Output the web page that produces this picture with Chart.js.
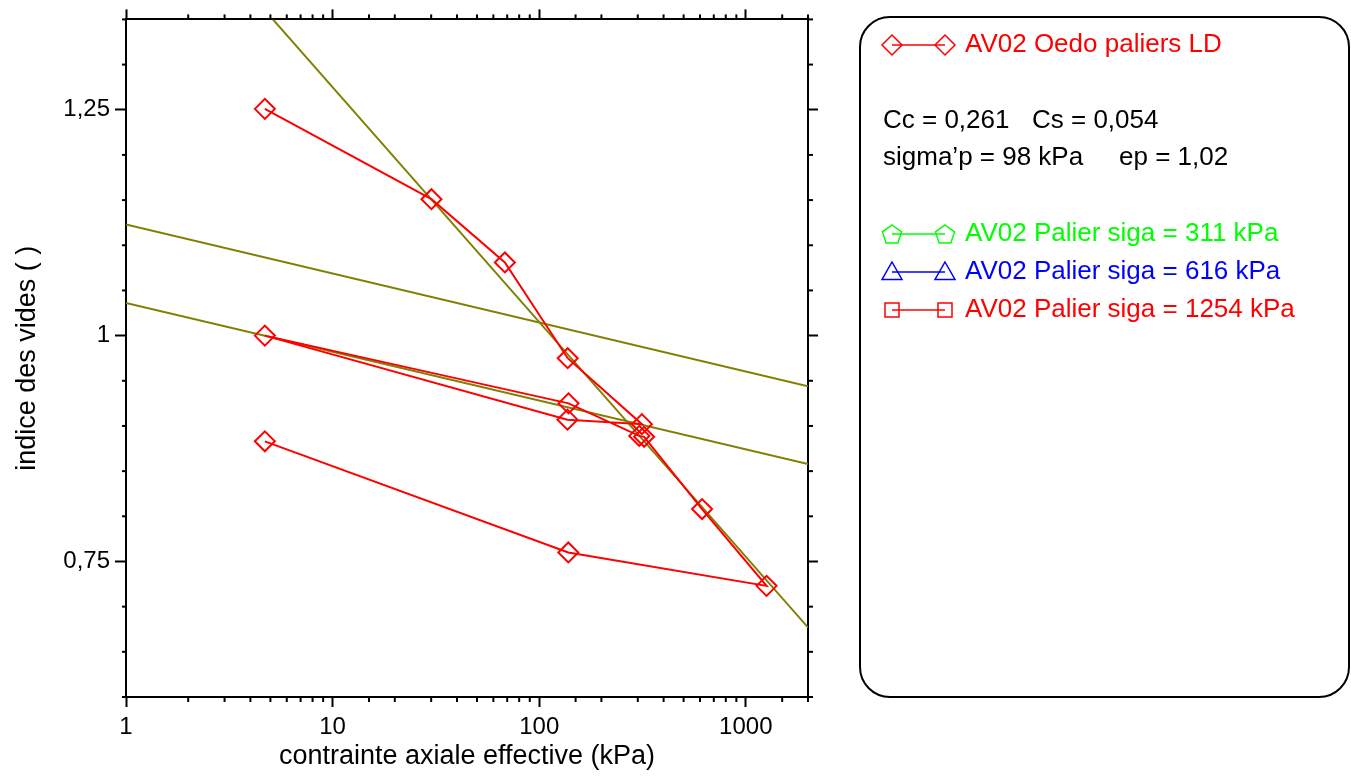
<!DOCTYPE html>
<html>
<head>
<meta charset="utf-8">
<script src="https://cdn.jsdelivr.net/npm/chart.js@4/dist/chart.umd.min.js"></script>
<style>
  body { margin: 0; background: #fff; }
  canvas { display: block; }
</style>
</head>
<body>
<canvas id="oedo" width="1351" height="778"></canvas>
<script>
// essai oedometrique AV02 : contrainte (kPa) / indice des vides
const oedoSigma = [4.7, 30.1, 68.2, 137.4, 314, 137, 4.7, 138.6, 305, 322, 614, 1260, 138.3, 4.7]
const oedoE = [1.251, 1.151, 1.081, 0.975, 0.902, 0.907, 1.0, 0.925, 0.889, 0.888, 0.808, 0.723, 0.760, 0.883]

// droites Cc et Cs
const ccSigma = [5.14, 2000]
const ccE = [1.35, 0.677]
const csHautSigma = [1, 2000]
const csHautE = [1.123, 0.944]
const csBasSigma = [1, 2000]
const csBasE = [1.036, 0.858]

const xTickLabels = [1, 10, 100, 1000]
const yTickLabels = ['0,75', '1', '1,25']

const legendLines = ['AV02 Oedo paliers LD', 'AV02 Palier siga = 311 kPa', 'AV02 Palier siga = 616 kPa', 'AV02 Palier siga = 1254 kPa']
const infoText = ['Cc = 0,261', 'Cs = 0,054', 'sigma\u2019p = 98 kPa', 'ep = 1,02']

const toPts = (xs, ys) => xs.map((x, i) => ({x: x, y: ys[i]}))
const isMajorLog = v => Math.abs(Math.log10(v) - Math.round(Math.log10(v))) < 1e-9
const isMajorY = v => Math.round(v * 100) % 25 === 0
const fmtY = v => (Math.round(v * 100) / 100).toString().replace('.', ',')

Chart.defaults.font.family = "'Liberation Sans', Arial, sans-serif"
Chart.defaults.color = '#000'

const olive = '#808000'

function lineSet(label, pts, color, extra) {
  return Object.assign({
    label: label,
    data: pts,
    showLine: true,
    borderColor: color,
    borderWidth: 2,
    pointRadius: 0,
    fill: false,
    tension: 0
  }, extra || {})
}

// petites graduations (mineures), plus courtes que les majeures
const minorTicks = {
  id: 'minorTicks',
  afterDraw(chart) {
    const ctx = chart.ctx
    const a = chart.chartArea
    ctx.save()
    ctx.strokeStyle = '#000'
    ctx.lineWidth = 2
    const mark = (sc, len) => {
      sc.ticks.forEach(t => {
        const major = sc.type === 'logarithmic' ? isMajorLog(t.value) : isMajorY(t.value)
        if (major) return
        const p = sc.getPixelForValue(t.value)
        ctx.beginPath()
        if (sc.id === 'x') { ctx.moveTo(p, a.bottom); ctx.lineTo(p, a.bottom + len) }
        if (sc.id === 'x2') { ctx.moveTo(p, a.top); ctx.lineTo(p, a.top - len) }
        if (sc.id === 'y') { ctx.moveTo(a.left, p); ctx.lineTo(a.left - len, p) }
        if (sc.id === 'y2') { ctx.moveTo(a.right, p); ctx.lineTo(a.right + len, p) }
        ctx.stroke()
      })
    }
    mark(chart.scales.x, 5)
    mark(chart.scales.x2, 5)
    mark(chart.scales.y, 4)
    mark(chart.scales.y2, 5)
    ctx.restore()
  }
}

function drawSymbol(ctx, kind, x, y) {
  ctx.beginPath()
  if (kind === 'diamond') {
    const r = 10
    ctx.moveTo(x, y - r); ctx.lineTo(x + r, y); ctx.lineTo(x, y + r); ctx.lineTo(x - r, y); ctx.closePath()
  } else if (kind === 'pentagon') {
    const r = 10
    for (let k = 0; k < 5; k++) {
      const ang = -Math.PI / 2 + k * 2 * Math.PI / 5
      const px = x + r * Math.cos(ang), py = y + 1 + r * Math.sin(ang)
      if (k === 0) ctx.moveTo(px, py); else ctx.lineTo(px, py)
    }
    ctx.closePath()
  } else if (kind === 'triangle') {
    const r = 10
    ctx.moveTo(x, y - r); ctx.lineTo(x + r, y + r * 0.75); ctx.lineTo(x - r, y + r * 0.75); ctx.closePath()
  } else {
    const h = 7
    ctx.rect(x - h, y - h, 2 * h, 2 * h)
  }
  ctx.stroke()
}

// cadre de legende a droite
const legendBox = {
  id: 'legendBox',
  afterDraw(chart) {
    const ctx = chart.ctx
    ctx.save()
    ctx.strokeStyle = '#000'
    ctx.lineWidth = 2
    ctx.beginPath()
    ctx.roundRect(860, 17, 489, 680, 30)
    ctx.stroke()

    ctx.font = "26px 'Liberation Sans', Arial, sans-serif"
    ctx.textBaseline = 'middle'
    const rows = [
      {y: 45, color: '#ff0000', sym: 'diamond', text: legendLines[0]},
      {y: 234, color: '#00ff00', sym: 'pentagon', text: legendLines[1]},
      {y: 272, color: '#0000ff', sym: 'triangle', text: legendLines[2]},
      {y: 310, color: '#ff0000', sym: 'square', text: legendLines[3]}
    ]
    rows.forEach(r => {
      ctx.strokeStyle = r.color
      ctx.fillStyle = r.color
      ctx.lineWidth = 1.5
      ctx.beginPath()
      ctx.moveTo(892, r.y); ctx.lineTo(945, r.y)
      ctx.stroke()
      drawSymbol(ctx, r.sym, 892, r.y)
      drawSymbol(ctx, r.sym, 945, r.y)
      ctx.fillText(r.text, 965, r.y)
    })

    ctx.fillStyle = '#000'
    ctx.fillText(infoText[0], 883, 121)
    ctx.fillText(infoText[1], 1032, 121)
    ctx.fillText(infoText[2], 883, 158)
    ctx.fillText(infoText[3], 1119, 158)
    ctx.restore()
  }
}

const tickColorLog = c => isMajorLog(c.tick.value) ? '#000' : 'rgba(0,0,0,0)'
const tickColorY = c => isMajorY(c.tick.value) ? '#000' : 'rgba(0,0,0,0)'

new Chart(document.getElementById('oedo'), {
  type: 'scatter',
  data: {
    datasets: [
      lineSet('AV02 Oedo paliers LD', toPts(oedoSigma, oedoE), '#ff0000', {
        pointStyle: 'rectRot',
        pointRadius: 10,
        pointBorderWidth: 2,
        pointBorderColor: '#ff0000',
        pointBackgroundColor: 'rgba(0,0,0,0)'
      }),
      lineSet('Cc', toPts(ccSigma, ccE), olive),
      lineSet('Cs haut', toPts(csHautSigma, csHautE), olive),
      lineSet('Cs bas', toPts(csBasSigma, csBasE), olive),
      lineSet(legendLines[1], [], '#00ff00'),
      lineSet(legendLines[2], [], '#0000ff'),
      lineSet(legendLines[3], [], '#ff0000')
    ]
  },
  options: {
    responsive: false,
    animation: false,
    layout: { padding: { left: 0, top: 0, right: 533, bottom: 0 } },
    plugins: { legend: { display: false }, tooltip: { enabled: false } },
    scales: {
      x: {
        type: 'logarithmic',
        position: 'bottom',
        min: 1, max: 2000,
        border: { display: true, color: '#000', width: 2 },
        grid: { drawOnChartArea: false, drawTicks: true, tickLength: 10, tickWidth: 2, tickColor: tickColorLog },
        ticks: {
          autoSkip: false, maxRotation: 0, padding: 6,
          font: { size: 24 }, color: '#000',
          callback: v => xTickLabels.includes(v) ? String(v) : ''
        },
        title: { display: true, text: 'contrainte axiale effective (kPa)', font: { size: 27 }, color: '#000', padding: { top: 0, bottom: 5 } },
        afterFit: s => { s.height = 81 }
      },
      x2: {
        type: 'logarithmic',
        position: 'top',
        min: 1, max: 2000,
        border: { display: true, color: '#000', width: 2 },
        grid: { drawOnChartArea: false, drawTicks: true, tickLength: 10, tickWidth: 2, tickColor: tickColorLog },
        ticks: { display: false, autoSkip: false },
        afterFit: s => { s.height = 16 }
      },
      y: {
        type: 'linear',
        position: 'left',
        min: 0.6, max: 1.35,
        border: { display: true, color: '#000', width: 2 },
        grid: { drawOnChartArea: false, drawTicks: true, tickLength: 11, tickWidth: 2, tickColor: tickColorY },
        ticks: {
          stepSize: 0.05, autoSkip: false, padding: 5,
          font: { size: 24 }, color: '#000',
          callback: v => isMajorY(v) && yTickLabels.includes(fmtY(v)) ? fmtY(v) : ''
        },
        title: { display: true, text: 'indice des vides ( )', font: { size: 27 }, color: '#000', padding: { top: 11, bottom: 0 } },
        afterFit: s => { s.width = 126 }
      },
      y2: {
        type: 'linear',
        position: 'right',
        min: 0.6, max: 1.35,
        border: { display: true, color: '#000', width: 2 },
        grid: { drawOnChartArea: false, drawTicks: true, tickLength: 10, tickWidth: 2, tickColor: tickColorY },
        ticks: { display: false, stepSize: 0.05, autoSkip: false },
        afterFit: s => { s.width = 10 }
      }
    }
  },
  plugins: [minorTicks, legendBox]
})
</script>
</body>
</html>
